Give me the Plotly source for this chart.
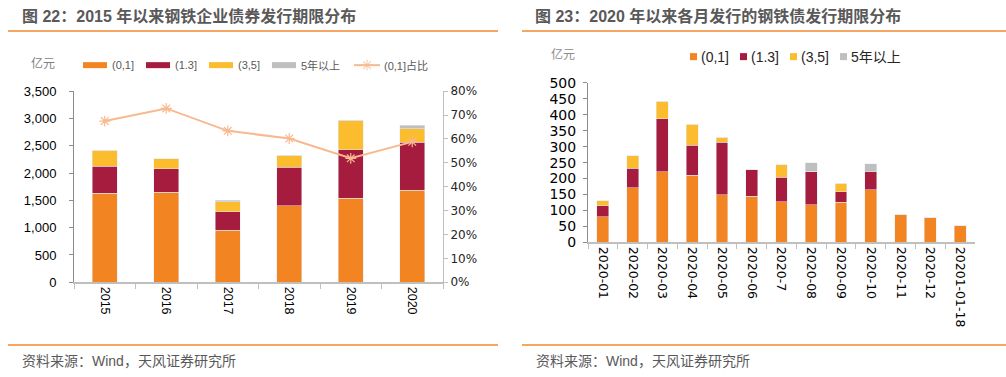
import plotly.graph_objects as go

# ---------------- data ----------------
years = ["2015", "2016", "2017", "2018", "2019", "2020"]
y_0_1 = [1630, 1650, 953, 1400, 1540, 1690]
y_1_3 = [495, 433, 335, 707, 890, 875]
y_3_5 = [290, 180, 183, 220, 530, 250]
y_5p = [0, 0, 30, 0, 10, 60]
pct_0_1 = [67.5, 72.8, 63.4, 60.2, 51.9, 58.8]

months = ["2020-01", "2020-02", "2020-03", "2020-04", "2020-05", "2020-06", "2020-7",
          "2020-08", "2020-09", "2020-10", "2020-11", "2020-12", "20201-01-18"]
m_0_1 = [81, 171, 222, 210, 150, 145, 127, 118, 125, 165, 88, 79, 54]
m_1_3 = [33, 61, 165, 94, 164, 83, 77, 105, 34, 57, 0, 0, 0]
m_3_5 = [16, 40, 55, 66, 16, 0, 39, 0, 27, 0, 0, 0, 0]
m_5p = [0, 0, 0, 0, 0, 0, 0, 26, 0, 25, 0, 0, 0]

series_names = ["(0,1]", "(1.3]", "(3,5]", "5年以上"]
line_name = "(0,1]占比"
title_left = "图 22：2015 年以来钢铁企业债券发行期限分布"
title_right = "图 23：2020 年以来各月发行的钢铁债发行期限分布"
unit_label = "亿元"
source_text = "资料来源：Wind，天风证券研究所"

# ---------------- style ----------------
W, H = 1006, 377
COLORS = ["#F28522", "#A51C3E", "#FBBC2D", "#BFBFBF"]
LINE_COLOR = "#F8B98E"
ORANGE_RULE = "#F0892E"
TXT_GRAY = "#595959"
FONT = "Liberation Sans, Arial, Noto Sans CJK SC, sans-serif"
CJK = "Noto Sans CJK SC, Liberation Sans, sans-serif"

# vertical calibration of the captured page (offset, scale)
V_OFF, V_SCALE = 7.0, 0.955


def X(px):
    return px / W


def PY(py):
    """target pixel row -> figure pixel row"""
    return (py - V_OFF) / V_SCALE


def Y(py):
    return 1 - PY(py) / H


fig = go.Figure()

left_vals = [y_0_1, y_1_3, y_3_5, y_5p]
for name, vals, col in zip(series_names, left_vals, COLORS):
    fig.add_trace(go.Bar(x=years, y=vals, name=name, marker_color=col,
                         xaxis="x", yaxis="y", showlegend=False))

fig.add_trace(go.Scatter(x=years, y=pct_0_1, name=line_name, xaxis="x", yaxis="y2",
                         mode="lines+markers",
                         line=dict(color=LINE_COLOR, width=2),
                         marker=dict(symbol="asterisk-open", size=9,
                                     line=dict(color=LINE_COLOR, width=1.2)),
                         showlegend=False))

right_vals = [m_0_1, m_1_3, m_3_5, m_5p]
for name, vals, col in zip(series_names, right_vals, COLORS):
    fig.add_trace(go.Bar(x=months, y=vals, name=name, marker_color=col,
                         xaxis="x2", yaxis="y3", showlegend=False))

# legend key for the line (on a hidden full-page pixel axis)
ly = PY(64)
fig.add_trace(go.Scatter(x=[354, 367, 380], y=[ly, ly, ly], xaxis="x3", yaxis="y4",
                         mode="lines+markers", line=dict(color=LINE_COLOR, width=2),
                         marker=dict(symbol="asterisk-open", size=[0, 9, 0],
                                     line=dict(color=LINE_COLOR, width=1.2)),
                         showlegend=False, hoverinfo="skip"))

axis_common = dict(showgrid=False, zeroline=False, showline=True, ticks="outside")

fig.update_layout(
    width=W, height=H, autosize=False, margin=dict(l=0, r=0, t=0, b=0, pad=0),
    paper_bgcolor="white", plot_bgcolor="rgba(0,0,0,0)",
    barmode="stack", bargap=0.6, showlegend=False,
    font=dict(family=FONT, color="#000000"),
    xaxis=dict(domain=[X(74), X(443)], anchor="y", type="category",
               linecolor="#BFBFBF", linewidth=2, tickson="boundaries",
               ticklen=5, tickcolor="#BFBFBF", tickangle=90,
               tickfont=dict(size=12.5, color="#000000"), **axis_common),
    yaxis=dict(domain=[Y(280.5), Y(90)], anchor="x", range=[0, 3500], dtick=500,
               tickformat=",", linecolor="#8C8C8C", linewidth=1, ticklen=4,
               tickcolor="#8C8C8C", ticklabelstandoff=10,
               tickfont=dict(size=13, color="#000000"), **axis_common),
    yaxis2=dict(overlaying="y", side="right", anchor="x", range=[0, 80], dtick=10,
                ticksuffix="%", linecolor="#BFBFBF", linewidth=1, ticklen=4,
                tickcolor="#BFBFBF",
                tickfont=dict(size=12, color="#262626",
                              family="DejaVu Sans, sans-serif"), **axis_common),
    xaxis2=dict(domain=[X(588), X(975)], anchor="y3", type="category",
                linecolor="#BFBFBF", linewidth=2, tickson="boundaries",
                ticklen=5, tickcolor="#BFBFBF", tickangle=90,
                tickfont=dict(size=12.5, color="#000000",
                              family="DejaVu Sans, sans-serif"), **axis_common),
    yaxis3=dict(domain=[Y(240.7), Y(81.7)], anchor="x2", range=[0, 500], dtick=50,
                linecolor="#8C8C8C", linewidth=1, ticklen=4, tickcolor="#8C8C8C",
                ticklabelstandoff=4,
                tickfont=dict(size=14, color="#000000",
                              family="DejaVu Sans, sans-serif"), **axis_common),
    xaxis3=dict(domain=[0, 1], range=[0, W], visible=False, fixedrange=True,
                anchor="y4"),
    yaxis4=dict(domain=[0, 1], range=[H, 0], visible=False, fixedrange=True,
                anchor="x3"),
)

shapes = []
annotations = []

# orange rules
for x0, x1 in [(8, 498), (522, 1006)]:
    for yy in (30, 343):
        shapes.append(dict(type="line", xref="paper", yref="paper",
                           x0=X(x0), x1=X(x1), y0=Y(yy), y1=Y(yy),
                           line=dict(color=ORANGE_RULE, width=1.5)))

# titles
for txt, x0 in [(title_left, 20), (title_right, 533)]:
    annotations.append(dict(text="<b>" + txt + "</b>", x=X(x0), y=Y(14.5),
                            xref="paper", yref="paper", xanchor="left",
                            yanchor="middle", showarrow=False,
                            font=dict(size=16, color=TXT_GRAY, family=FONT)))

# sources
for x0 in (20, 534):
    annotations.append(dict(text=source_text, x=X(x0), y=Y(359), xref="paper",
                            yref="paper", xanchor="left", yanchor="middle",
                            showarrow=False,
                            font=dict(size=14, color=TXT_GRAY, family=FONT)))

# unit labels
annotations.append(dict(text=unit_label, x=X(29), y=Y(61), xref="paper", yref="paper",
                        xanchor="left", yanchor="middle", showarrow=False,
                        font=dict(size=12, color="#7F7F7F", family=CJK)))
annotations.append(dict(text=unit_label, x=X(549), y=Y(52), xref="paper", yref="paper",
                        xanchor="left", yanchor="middle", showarrow=False,
                        font=dict(size=12, color="#8C8C8C", family=CJK)))

# left legend
for i, (name, col) in enumerate(zip(series_names, COLORS)):
    x0 = 83 + 63 * i
    shapes.append(dict(type="rect", xref="paper", yref="paper",
                       x0=X(x0), x1=X(x0 + 24), y0=Y(67), y1=Y(61),
                       fillcolor=col, line=dict(width=0)))
    annotations.append(dict(text=name, x=X(x0 + 27), y=Y(64), xref="paper",
                            yref="paper", xanchor="left", yanchor="middle",
                            showarrow=False,
                            font=dict(size=11, color=TXT_GRAY, family=FONT)))
annotations.append(dict(text=line_name, x=X(382), y=Y(64), xref="paper", yref="paper",
                        xanchor="left", yanchor="middle", showarrow=False,
                        font=dict(size=11, color=TXT_GRAY, family=FONT)))

# right legend
for i, (name, col) in enumerate(zip(series_names, COLORS)):
    x0 = 690 + 50 * i
    shapes.append(dict(type="rect", xref="paper", yref="paper",
                       x0=X(x0), x1=X(x0 + 7), y0=Y(59), y1=Y(52),
                       fillcolor=col, line=dict(width=0)))
    annotations.append(dict(text=name, x=X(x0 + 9), y=Y(55.5), xref="paper",
                            yref="paper", xanchor="left", yanchor="middle",
                            showarrow=False,
                            font=dict(size=14, color="#262626", family=FONT)))

fig.update_layout(shapes=shapes, annotations=annotations)
fig.write_html("out.html",
               config={"displayModeBar": False, "responsive": False},
               post_script="document.documentElement.style.margin='0';"
                           "document.body.style.margin='0';"
                           "document.body.style.padding='0';"
                           "document.body.style.overflow='hidden';"
                           "window.scrollTo(0,0);")
